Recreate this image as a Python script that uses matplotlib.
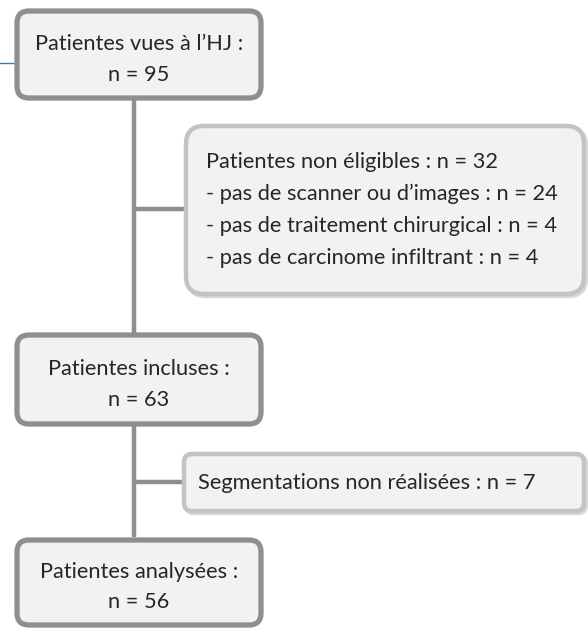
import matplotlib.pyplot as plt
from matplotlib.patches import FancyBboxPatch

# flowchart content
main_titles = ["Patientes vues à l\u2019HJ :", "Patientes incluses :", "Patientes analysées :"]
main_counts = [95, 63, 56]
excl_title = "Patientes non éligibles"
excl_total = 32
excl_reasons = ["pas de scanner ou d\u2019images", "pas de traitement chirurgical",
                "pas de carcinome infiltrant"]
excl_counts = [24, 4, 4]
seg_label = "Segmentations non réalisées"
seg_count = 7

W, H = 588, 628
TXT = "#262626"
FILL = "#f2f2f2"
DARK = "#8f8f8f"
LIGHT = "#c3c3c3"
FONT = "Lato"
FS = 15.7

fig = plt.figure(figsize=(W / 100, H / 100), dpi=100)
ax = fig.add_axes([0, 0, 1, 1])
ax.set_xlim(0, W)
ax.set_ylim(H, 0)
ax.axis("off")


def box(x0, y0, x1, y1, edge, lw, r, shadow=False):
    if shadow:
        ax.add_patch(FancyBboxPatch((x0 + 2, y0 + 2), x1 - x0, y1 - y0,
                                    boxstyle=f"round,pad=0,rounding_size={r}",
                                    fc="none", ec="#d8d8d8", lw=lw, zorder=2))
    ax.add_patch(FancyBboxPatch((x0, y0), x1 - x0, y1 - y0,
                                boxstyle=f"round,pad=0,rounding_size={r}",
                                fc=FILL, ec=edge, lw=lw, zorder=3))


# connectors
cx = 134
ax.plot([cx, cx], [100, 537], color=DARK, lw=3.2, zorder=1, solid_capstyle="butt")
ax.plot([cx, 186], [209, 209], color=DARK, lw=3.2, zorder=1, solid_capstyle="butt")
ax.plot([cx, 184], [482, 482], color=DARK, lw=3.2, zorder=1, solid_capstyle="butt")
# small blue line at top-left
ax.plot([0, 17], [63, 63], color="#4a72b0", lw=1.0, zorder=1)

# main boxes
main_boxes = [(17, 11, 261, 98), (17, 335, 261, 424), (17, 540, 261, 625)]
for (x0, y0, x1, y1), t, n in zip(main_boxes, main_titles, main_counts):
    box(x0, y0, x1, y1, DARK, 3.8, 12)
    xm = (x0 + x1) / 2
    ax.text(xm, y0 + 0.38 * (y1 - y0), t, ha="center", va="center",
            fontsize=FS, color=TXT, family=FONT, zorder=4)
    ax.text(xm, y0 + 0.73 * (y1 - y0), f"n = {n}", ha="center", va="center",
            fontsize=FS, color=TXT, family=FONT, zorder=4)

# exclusion box
box(186, 126, 584, 294, LIGHT, 3.2, 18, shadow=True)
lines = [f"{excl_title} : n = {excl_total}"]
lines += [f"- {r} : n = {c}" for r, c in zip(excl_reasons, excl_counts)]
for i, s in enumerate(lines):
    ax.text(206, 162 + 32 * i, s, ha="left", va="center",
            fontsize=FS, color=TXT, family=FONT, zorder=4)

# segmentation box
box(184, 454, 584, 511, LIGHT, 3.2, 8, shadow=True)
ax.text(198, 483, f"{seg_label} : n = {seg_count}", ha="left", va="center",
        fontsize=FS, color=TXT, family=FONT, zorder=4)

fig.savefig("out.png", dpi=100)
